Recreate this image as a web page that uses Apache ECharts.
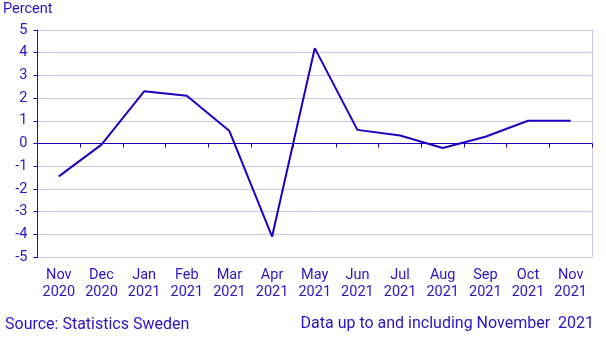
<!DOCTYPE html>
<html><head><meta charset="utf-8">
<script src="https://cdn.jsdelivr.net/npm/echarts@6/dist/echarts.min.js"></script>
<style>html,body{margin:0;padding:0;background:#fff}#c{width:606px;height:341px}</style>
</head><body><div id="c"></div>
<script>
var categories = ["Nov\n2020","Dec\n2020","Jan\n2021","Feb\n2021","Mar\n2021","Apr\n2021","May\n2021","Jun\n2021","Jul\n2021","Aug\n2021","Sep\n2021","Oct\n2021","Nov\n2021"];
var values = [-1.45, -0.05, 2.3, 2.1, 0.55, -4.1, 4.2, 0.6, 0.35, -0.2, 0.3, 1.0, 1.0];
var yTicks = [-5,-4,-3,-2,-1,0,1,2,3,4,5];
var blue = '#1e00be';
var txt = '#2a14c4';
var gridc = '#c8c8f0';
var chart = echarts.init(document.getElementById('c'), null, {renderer:'canvas'});
chart.setOption({
  animation:false,
  textStyle:{fontFamily:'Roboto'},
  grid:{left:37.5,right:14,top:30,bottom:84,containLabel:false},
  graphic:[
    {type:'text',left:3,top:2,style:{text:'Percent',fill:txt,font:'14.5px Roboto'}},
    {type:'text',left:5,top:317,style:{text:'Source: Statistics Sweden',fill:txt,font:'16px Roboto'}},
    {type:'text',right:12,top:316,style:{text:'Data up to and including November  2021',fill:txt,font:'16px Roboto'}}
  ],
  xAxis:[
    {type:'category',data:categories,boundaryGap:true,
     axisLine:{onZero:true,lineStyle:{color:blue,width:1}},
     axisTick:{show:true,length:4,lineStyle:{color:blue}},
     axisLabel:{show:false},splitLine:{show:false}},
    {type:'category',data:categories,boundaryGap:true,position:'bottom',
     axisLine:{show:false},axisTick:{show:false},
     axisLabel:{show:true,color:txt,fontSize:14.5,fontFamily:'Roboto',lineHeight:17,margin:10,interval:0},
     splitLine:{show:false}}
  ],
  yAxis:[
    {type:'value',min:-5,max:5,interval:1,
     axisLine:{show:true,lineStyle:{color:blue}},
     axisTick:{show:true,length:4,lineStyle:{color:blue}},
     axisLabel:{color:txt,fontSize:14.5,fontFamily:'Roboto',margin:10,
       formatter:function(v){return yTicks.indexOf(v)>=0?String(v):'';}},
     splitLine:{show:true,lineStyle:{color:gridc,width:1}}},
    {type:'value',min:-5,max:5,interval:1,position:'right',
     axisLine:{show:true,lineStyle:{color:gridc}},axisTick:{show:false},axisLabel:{show:false},splitLine:{show:false}}
  ],
  series:[{type:'line',data:values,xAxisIndex:0,yAxisIndex:0,symbol:'none',
    lineStyle:{color:blue,width:2},z:5}]
});
</script></body></html>
